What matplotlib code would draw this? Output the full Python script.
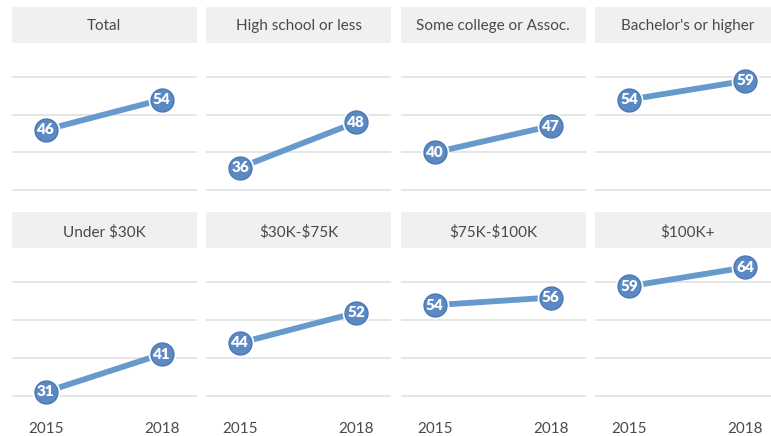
import matplotlib
matplotlib.use("Agg")
import matplotlib.pyplot as plt

plt.rcParams['font.family'] = ['Lato', 'DejaVu Sans']
plt.rcParams['text.parse_math'] = False

years = [2015, 2018]
year_labels = ["2015", "2018"]
titles = ["Total", "High school or less", "Some college or Assoc.", "Bachelor's or higher",
          "Under $30K", "$30K-$75K", "$75K-$100K", "$100K+"]
values_2015 = [46, 36, 40, 54, 31, 44, 54, 59]
values_2018 = [54, 48, 47, 59, 41, 52, 56, 64]

W, H = 771, 436
fig = plt.figure(figsize=(W / 100, H / 100), dpi=100)

line_color = '#6699cc'
marker_face = '#5b89c3'
marker_edge = '#4a78b2'
grid_color = '#e2e2e2'
header_bg = '#f0f0f0'
text_color = '#4a4a4a'

col_left0 = 11.5
col_step = 194.6
panel_w = 185
header_tops = [7, 212.5]
header_h = 36
plot_h = 158.5

def px(x, y, w, h):
    return [x / W, 1 - (y + h) / H, w / W, h / H]

for i, title in enumerate(titles):
    r, c = divmod(i, 4)
    left = col_left0 + c * col_step
    htop = header_tops[r]
    # header
    hax = fig.add_axes(px(left, htop, panel_w, header_h))
    hax.set_facecolor(header_bg)
    for s in hax.spines.values():
        s.set_visible(False)
    hax.set_xticks([]); hax.set_yticks([])
    hax.text(0.5, 0.46, title, ha='center', va='center', fontsize=11,
             color=text_color, transform=hax.transAxes)
    # plot
    ax = fig.add_axes(px(left, htop + header_h, panel_w, plot_h))
    ax.set_xlim(2014.12, 2018.9)
    ax.set_ylim(27, 69)
    ax.set_yticks([30, 40, 50, 60])
    ax.yaxis.grid(True, color=grid_color, linewidth=1.2)
    ax.set_axisbelow(True)
    for s in ax.spines.values():
        s.set_visible(False)
    ax.tick_params(axis='y', length=0, labelleft=False)
    vals = [values_2015[i], values_2018[i]]
    ax.plot(years, vals, color=line_color, linewidth=4.2, solid_capstyle='round', zorder=2)
    ax.plot(years, vals, linestyle='none', marker='o', markersize=19,
            markerfacecolor='white', markeredgecolor='white', zorder=3)
    ax.plot(years, vals, linestyle='none', marker='o', markersize=16.5,
            markerfacecolor=marker_face, markeredgecolor=marker_edge,
            markeredgewidth=1.0, zorder=4)
    for x, v in zip(years, vals):
        ax.text(x, v, str(v), ha='center', va='center', fontsize=11,
                fontweight='heavy', color='white', zorder=5)
    ax.set_xticks(years)
    if r == 1:
        ax.set_xticklabels(year_labels, fontsize=11, color=text_color)
        ax.tick_params(axis='x', length=0, pad=10.5)
    else:
        ax.tick_params(axis='x', length=0, labelbottom=False)

fig.savefig("out.png", dpi=100)
